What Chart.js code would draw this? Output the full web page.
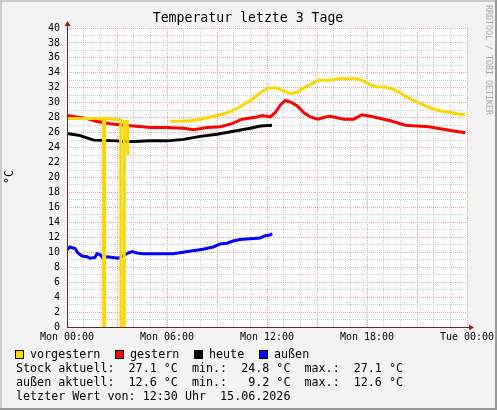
<!DOCTYPE html>
<html>
<head>
<meta charset="utf-8">
<script src="https://cdn.jsdelivr.net/npm/chart.js@4.4.1/dist/chart.umd.min.js"></script>
<style>
html, body { margin: 0; padding: 0; background: #f3f3f3; }
canvas { display: block; }
</style>
</head>
<body>
<canvas id="chart" width="497" height="410"></canvas>
<script>
// x values are hours since Mon 00:00
const xTickHours = [0, 6, 12, 18, 24];
const xTickLabels = ['Mon 00:00', 'Mon 06:00', 'Mon 12:00', 'Mon 18:00', 'Tue 00:00'];

const vorgesternHours = [0, 1, 2.19, 2.2, 2.25, 2.26, 2.8, 3.22, 3.24, 3.42, 3.44, 3.62, 3.66, 5,
    6.2, 7.4, 8, 8.6, 9.2, 9.8, 10.4, 11, 11.6, 12, 12.5, 12.9, 13.4, 13.8, 14.3, 14.9, 15.1,
    15.8, 16.2, 17.4, 17.8, 18.2, 18.6, 19.1, 19.6, 20, 20.6, 21.2, 21.8, 22.4, 23, 23.5, 23.9];
const vorgesternTemps = [27.9, 27.9, 27.9, 0.1, 0.1, 27.9, 27.8, 27.7, 0, 0, 27.5, 27.5, 23.0, null,
    27.5, 27.6, 27.8, 28.1, 28.4, 28.8, 29.5, 30.3, 31.3, 31.9, 32.0, 31.7, 31.2, 31.4, 32.1, 32.8, 33.0,
    33.0, 33.2, 33.2, 32.9, 32.4, 32.1, 32.1, 31.8, 31.3, 30.5, 29.9, 29.3, 28.9, 28.7, 28.5, 28.4];

const gesternHours = [0, 0.6, 1.2, 1.8, 2.6, 3.4, 4, 5, 6, 7, 7.6, 8.4, 9.2, 9.9, 10.5, 11.4, 11.7,
    12.2, 12.5, 12.8, 13.1, 13.4, 13.8, 14.2, 14.6, 15.05, 15.5, 15.8, 16.6, 17.2, 17.7, 18.2, 18.8,
    19.4, 20.3, 21, 21.7, 22.5, 23.3, 23.9];
const gesternTemps = [28.3, 28.1, 27.9, 27.5, 27.2, 27.0, 26.9, 26.7, 26.7, 26.6, 26.4, 26.7, 26.8, 27.2, 27.8, 28.1, 28.3,
    28.1, 28.7, 29.7, 30.3, 30.1, 29.6, 28.7, 28.1, 27.8, 28.1, 28.2, 27.8, 27.8, 28.4, 28.2, 27.9,
    27.6, 27.0, 26.9, 26.8, 26.5, 26.2, 26.0];

const heuteHours = [0, 0.8, 1.6, 3, 3.4, 4, 5, 6, 7, 8, 9, 10, 11, 11.6, 12.3];
const heuteTemps = [25.9, 25.6, 25.0, 24.9, 24.8, 24.8, 24.9, 24.9, 25.1, 25.5, 25.8, 26.2, 26.6, 26.9, 27.0];

const aussenHours = [0, 0.18, 0.48, 0.66, 0.9, 1.2, 1.38, 1.68, 1.8, 1.98, 2.16, 2.4, 2.76, 3.06, 3.36,
    3.66, 3.9, 4.2, 4.56, 5.58, 6.36, 6.96, 7.56, 8.16, 8.76, 9.18, 9.6, 9.96, 10.38, 10.98, 11.58,
    11.88, 12.18, 12.3];
const aussenTemps = [10.3, 10.7, 10.5, 9.9, 9.5, 9.4, 9.2, 9.3, 9.8, 9.7, 9.2, 9.4, 9.3, 9.2, 9.5,
    9.9, 10.1, 9.9, 9.8, 9.8, 9.8, 10.0, 10.2, 10.4, 10.7, 11.1, 11.2, 11.5, 11.7, 11.8, 11.9,
    12.2, 12.3, 12.5];

const legendItems = [
    { label: 'vorgestern', color: '#ffd700' },
    { label: 'gestern', color: '#ff0000' },
    { label: 'heute', color: '#000000' },
    { label: 'außen', color: '#0000ff' },
];
const infoLines = [
    'Stock aktuell:  27.1 °C  min.:  24.8 °C  max.:  27.1 °C',
    'außen aktuell:  12.6 °C  min.:   9.2 °C  max.:  12.6 °C',
    'letzter Wert von: 12:30 Uhr  15.06.2026',
];

const MONO = '"DejaVu Sans Mono", "Liberation Mono", monospace';
const MAJOR_GRID = '#f2a6a6';
const MINOR_GRID = '#cfcfcf';

function points(hours, temps) {
    return hours.map((h, i) => ({ x: h, y: temps[i] }));
}

function series(label, hours, temps, color) {
    return {
        label,
        data: points(hours, temps),
        borderColor: color,
        backgroundColor: color,
        borderWidth: 3,
        pointRadius: 0,
        tension: 0,
        spanGaps: false,
        fill: false,
    };
}

const rrdDecor = {
    id: 'rrdDecor',
    beforeDraw(chart) {
        const { ctx, chartArea: a, width, height } = chart;
        ctx.save();
        ctx.fillStyle = '#f3f3f3';
        ctx.fillRect(0, 0, width, height);
        ctx.fillStyle = '#cbcbcb';
        ctx.fillRect(0, 0, width, 2);
        ctx.fillRect(0, 0, 2, height);
        ctx.fillStyle = '#999999';
        ctx.fillRect(0, height - 2, width, 2);
        ctx.fillRect(width - 2, 0, 2, height);
        ctx.fillStyle = '#ffffff';
        ctx.fillRect(a.left, a.top, a.right - a.left, a.bottom - a.top);
        ctx.restore();
    },
    afterDraw(chart) {
        const { ctx, chartArea: a } = chart;
        ctx.save();

        // axes with arrows
        ctx.strokeStyle = '#5a2a2a';
        ctx.lineWidth = 1;
        ctx.beginPath();
        ctx.moveTo(a.left + 0.5, a.bottom + 0.5);
        ctx.lineTo(a.left + 0.5, a.top - 4);
        ctx.moveTo(a.left, a.bottom + 0.5);
        ctx.lineTo(a.right + 3, a.bottom + 0.5);
        ctx.stroke();
        ctx.fillStyle = '#a01818';
        ctx.beginPath();
        ctx.moveTo(a.left + 0.5, a.top - 7);
        ctx.lineTo(a.left + 3.5, a.top - 2);
        ctx.lineTo(a.left - 2.5, a.top - 2);
        ctx.closePath();
        ctx.fill();
        ctx.beginPath();
        ctx.moveTo(a.right + 7, a.bottom + 0.5);
        ctx.lineTo(a.right + 2, a.bottom - 2.5);
        ctx.lineTo(a.right + 2, a.bottom + 3.5);
        ctx.closePath();
        ctx.fill();

        // title
        ctx.fillStyle = '#000';
        ctx.textBaseline = 'middle';
        ctx.textAlign = 'center';
        ctx.font = '13.2px ' + MONO;
        ctx.fillText('Temperatur letzte 3 Tage', 248, 19);

        // y axis unit
        ctx.save();
        ctx.translate(10, 177);
        ctx.rotate(-Math.PI / 2);
        ctx.font = '11.7px ' + MONO;
        ctx.fillText('°C', 0, 0);
        ctx.restore();

        // watermark
        ctx.save();
        ctx.translate(488.5, 60);
        ctx.rotate(Math.PI / 2);
        ctx.fillStyle = '#a8a8a8';
        ctx.font = '8.3px ' + MONO;
        ctx.fillText('RRDTOOL / TOBI OETIKER', 0, 0);
        ctx.restore();

        // legend
        ctx.textAlign = 'left';
        ctx.font = '11.7px ' + MONO;
        const legendX = [15, 115, 194, 259];
        legendItems.forEach((item, i) => {
            const x = legendX[i];
            ctx.fillStyle = item.color;
            ctx.fillRect(x, 350, 9, 9);
            ctx.strokeStyle = '#000';
            ctx.strokeRect(x + 0.5, 350.5, 8, 8);
            ctx.fillStyle = '#000';
            ctx.fillText(item.label, x + 15, 355);
        });

        infoLines.forEach((line, i) => {
            ctx.fillText(line, 16, 368.5 + i * 14);
        });

        ctx.restore();
    },
};

new Chart(document.getElementById('chart'), {
    type: 'line',
    data: {
        datasets: [
            series('vorgestern', vorgesternHours, vorgesternTemps, '#ffd700'),
            series('gestern', gesternHours, gesternTemps, '#ff0000'),
            series('heute', heuteHours, heuteTemps, '#000000'),
            series('außen', aussenHours, aussenTemps, '#0000ff'),
        ],
    },
    options: {
        responsive: false,
        animation: false,
        devicePixelRatio: 1,
        layout: { padding: { top: 28, right: 30, bottom: 63, left: 0 } },
        plugins: {
            legend: { display: false },
            title: { display: false },
            tooltip: { enabled: false },
        },
        scales: {
            x: {
                type: 'linear',
                min: 0,
                max: 24,
                afterFit: (scale) => {
                    scale.height = 20;
                    scale.paddingLeft = 0;
                    scale.paddingRight = 0;
                },
                grid: {
                    drawTicks: false,
                    color: (c) => (c.tick && c.tick.value % 3 === 0 ? MAJOR_GRID : MINOR_GRID),
                },
                border: { display: false, dash: [1, 1] },
                ticks: {
                    stepSize: 1,
                    autoSkip: false,
                    maxRotation: 0,
                    padding: 4,
                    color: '#000',
                    font: { family: MONO, size: 10 },
                    callback: (value) => {
                        const i = xTickHours.indexOf(value);
                        return i >= 0 ? xTickLabels[i] : '';
                    },
                },
            },
            y: {
                min: 0,
                max: 40,
                afterFit: (scale) => { scale.width = 67; },
                grid: {
                    drawTicks: false,
                    color: (c) => (c.tick && c.tick.value % 2 === 0 ? MAJOR_GRID : MINOR_GRID),
                },
                border: { display: false, dash: [1, 1] },
                ticks: {
                    stepSize: 1,
                    autoSkip: false,
                    padding: 7,
                    color: '#000',
                    font: { family: MONO, size: 10 },
                    callback: (value) => (value % 2 === 0 ? String(value) : ''),
                },
            },
        },
    },
    plugins: [rrdDecor],
});
</script>
</body>
</html>
